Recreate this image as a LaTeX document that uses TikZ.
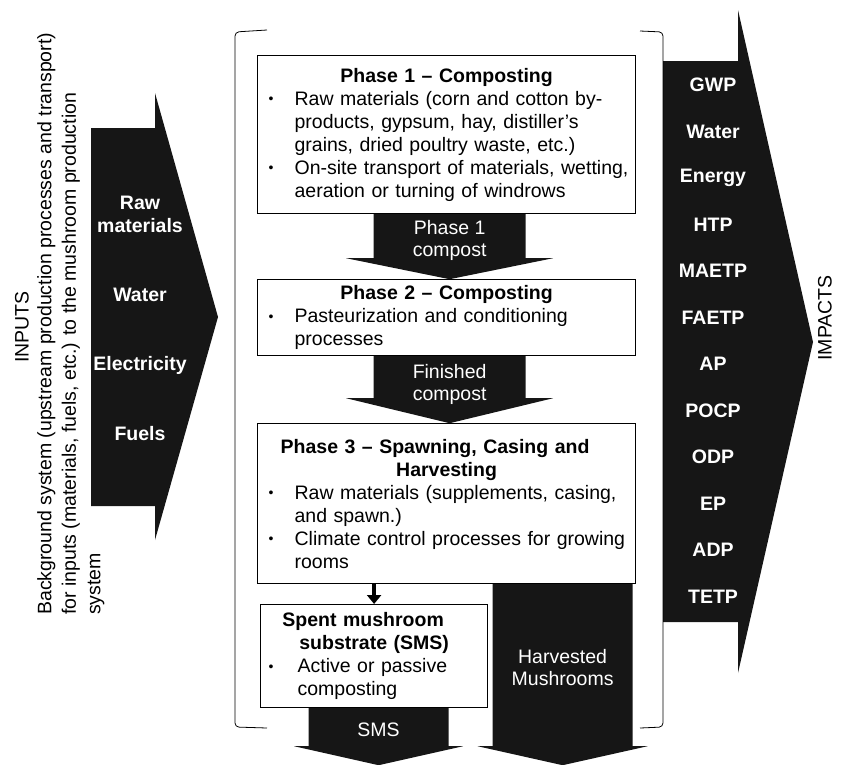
\documentclass[tikz,border=0pt]{standalone}
\usepackage{fontspec}
\setmainfont{Liberation Sans}
\usetikzlibrary{calc,arrows.meta,backgrounds}
\definecolor{blk}{RGB}{22,22,22}
\newcommand{\bitem}[2][11pt]{\par\hangindent=37pt\hangafter=1\noindent\hbox to 37pt{\hskip #1\raisebox{1.5pt}{\fontsize{14}{14}\selectfont\textbullet}\hfil}#2\par}
\newcommand{\btitle}[1]{{\centering\bfseries #1\par}}
\newcommand{\blockarrow}[5]{%
  \fill[blk] ($#1+(-#2,0)$) -- ($#1+(#2,0)$) -- ($#1+(#2,#4)$) -- ($#1+(#3,#4)$)
    -- ($#1+(0,#4+#5)$) -- ($#1+(-#3,#4)$) -- ($#1+(-#2,#4)$) -- cycle;}
\tikzset{
  box/.style={draw=black, line width=1.2pt, fill=white, inner xsep=0pt, inner ysep=0pt,
    anchor=north west, align=left},
  wlbl/.style={text=white, align=center, font=\bfseries\fontsize{19.5}{23}\selectfont},
  albl/.style={text=white, align=center, font=\fontsize{19.5}{22}\selectfont},
  brk/.style={line width=0.8pt, rounded corners=4pt},
}
\begin{document}
\begin{tikzpicture}[x=1pt,y=-1pt,font=\fontsize{19.5}{23}\selectfont]
\useasboundingbox (0,0) rectangle (846,764);

% left inputs arrow
\fill[blk] (91,128) -- (155,128) -- (155,93) -- (218,317) -- (155,540) -- (155,506) -- (91,506) -- cycle;
\node[wlbl] (rawm) at (140,214) {Raw\\materials};
\node[wlbl] (water) at (140,295) {Water};
\node[wlbl] (elec) at (140,365) {Electricity};
\node[wlbl] (fuels) at (140,434) {Fuels};

% left rotated text
\node[rotate=90] (inputs) at (22,327) {INPUTS};
\node[rotate=90, anchor=north west, inner sep=0pt, align=left,
  font=\fontsize{19.5}{24.5}\selectfont] (bg) at (37,615)
  {Background system (upstream production processes and transport)\\
   for inputs (materials, fuels, etc.) to the mushroom production\\
   system};

% right impacts arrow
\fill[blk] (663,61) -- (738,61) -- (738,10) -- (813,342) -- (738,673) -- (738,622) -- (663,622) -- cycle;
\foreach \t [count=\i from 0] in {GWP,Water,Energy,HTP,MAETP,FAETP,AP,POCP,ODP,EP,ADP,TETP}
  \node[wlbl] (imp\i) at (713,85+46.5*\i) {\t};
\node[rotate=90] (impacts) at (825,318) {IMPACTS};

% brackets
\draw[brk] (267,30) -- (235,32) -- (235,727) -- (267,728);
\draw[brk] (640,31) -- (663,32) -- (663,727) -- (640,728);

% boxes
\node[box, minimum width=378pt, minimum height=158pt, text width=378pt] (p1) at (257,55) {%
\btitle{Phase 1 – Composting}%
\bitem{Raw materials (corn and cotton by-\newline products, gypsum, hay, distiller’s\newline grains, dried poultry waste, etc.)}%
\bitem{On-site transport of materials, wetting,\newline aeration or turning of windrows}};

\node[box, minimum width=378pt, minimum height=76pt, text width=378pt] (p2) at (257,279) {%
\btitle{Phase 2 – Composting}%
\bitem{Pasteurization and conditioning\newline processes}};

\node[box, minimum width=378pt, minimum height=160pt, text width=378pt] (p3) at (257,423) {%
\btitle{Phase 3 – Spawning, Casing and\newline Harvesting}%
\bitem{Raw materials (supplements, casing,\newline and spawn.)}%
\bitem{Climate control processes for growing\newline rooms}};

\node[box, minimum width=227pt, minimum height=103pt, text width=227pt] (sms) at (260,604) {%
\btitle{Spent mushroom\newline substrate (SMS)}%
\bitem[8pt]{Active or passive\newline composting}};

% block arrows
\begin{scope}[on background layer]
\coordinate (a1) at ($(p1.south)+(3,0)$);
\blockarrow{(a1)}{76}{103.5}{44}{21}
\coordinate (a2) at ($(p2.south)+(3,0)$);
\blockarrow{(a2)}{76}{103.5}{42}{25}
\coordinate (a3) at ($(sms.south)+(4.5,0)$);
\blockarrow{(a3)}{70}{84.5}{38}{19}
\coordinate (a4) at ($(p3.south)+(116,0)$);
\blockarrow{(a4)}{70}{85}{162}{19}
\end{scope}
\node[albl] (l1) at ($(a1)+(0,26)$) {Phase 1\\compost};
\node[albl] (l2) at ($(a2)+(0,28)$) {Finished\\compost};
\node[albl] (l3) at ($(a3)+(0,22)$) {SMS};
\node[albl] (l4) at ($(a4)+(0,83)$) {Harvested\\Mushrooms};

% small arrow
\draw[line width=4pt, -{Triangle[length=9pt,width=14pt]}] (sms.north |- p3.south) -- (sms.north);
\end{tikzpicture}
\end{document}
